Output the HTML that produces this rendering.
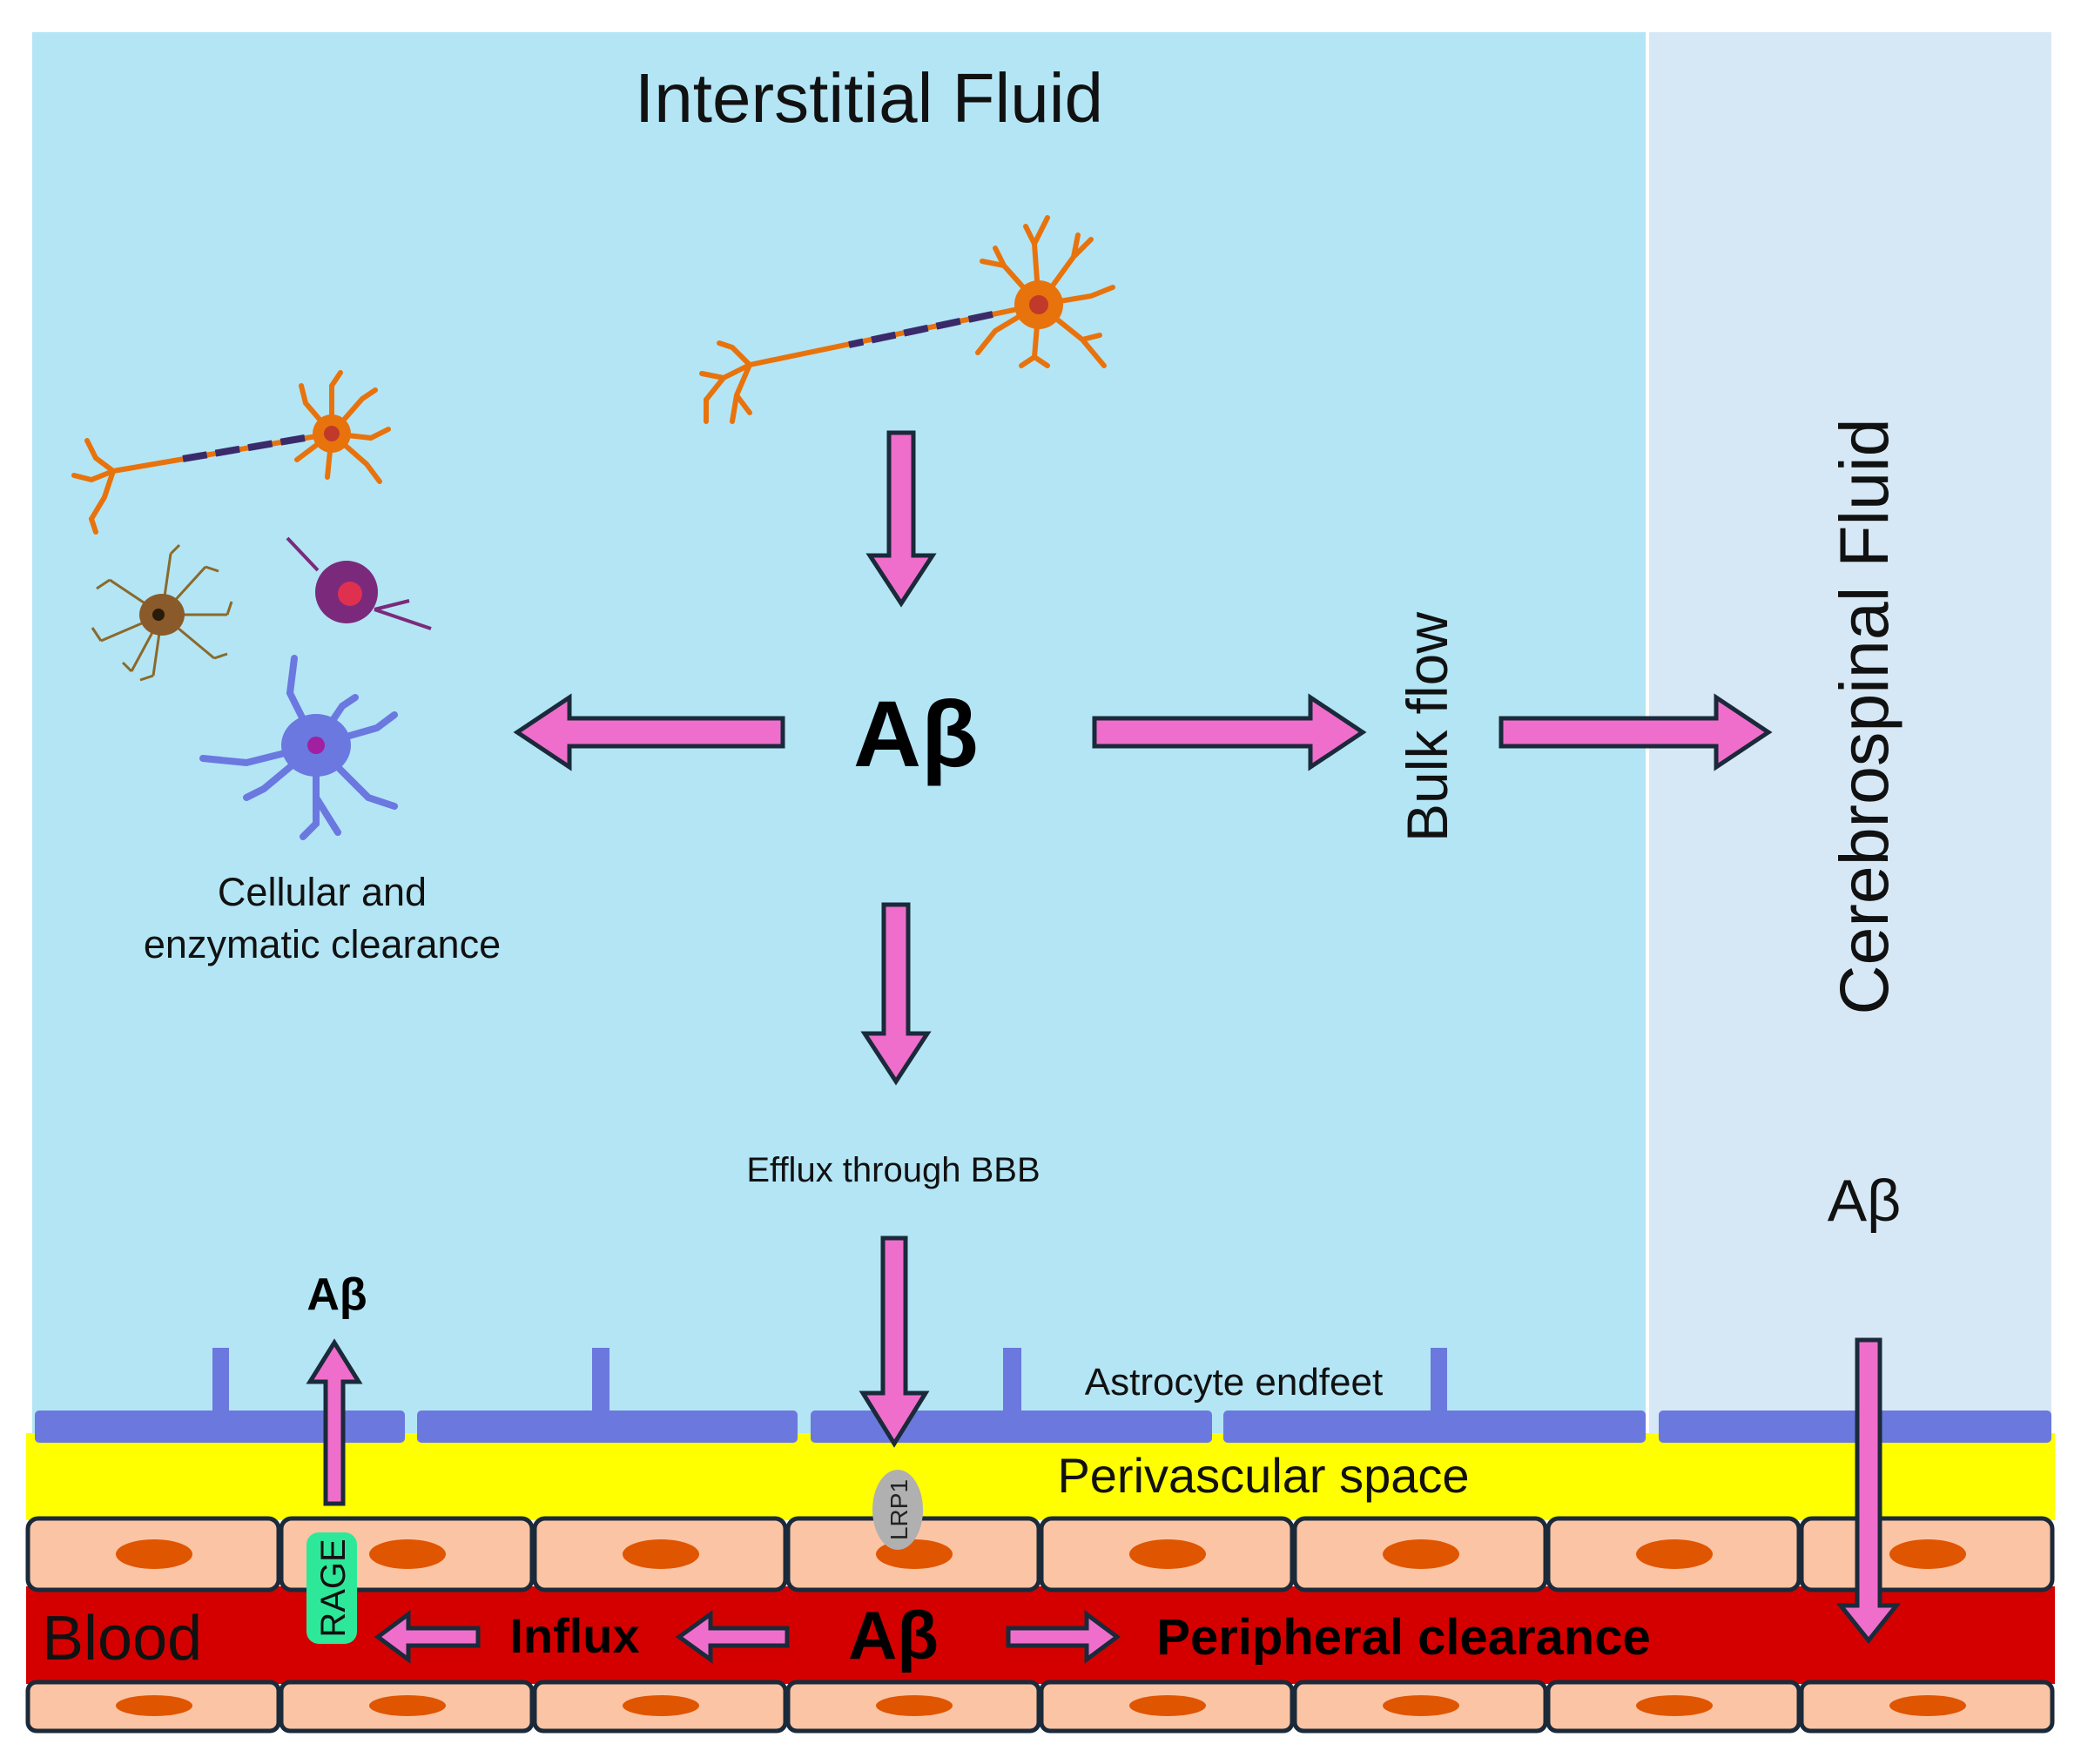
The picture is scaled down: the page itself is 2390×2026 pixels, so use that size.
<!DOCTYPE html>
<html><head><meta charset="utf-8"><style>
html,body{margin:0;padding:0;background:#fff}
svg{display:block}
text{font-family:"Liberation Sans","DejaVu Sans",sans-serif}
</style></head><body>
<svg width="2390" height="2026" viewBox="0 0 2390 2026" xmlns="http://www.w3.org/2000/svg">
<rect width="2390" height="2026" fill="#fff"/>
<rect x="37" y="37" width="1853" height="1620" fill="#b3e5f5"/>
<rect x="1894" y="37" width="462" height="1620" fill="#d6e8f6"/>
<rect x="30" y="1646" width="2330" height="100" fill="#ffff00"/>
<g fill="#6b78dd">
<rect x="40" y="1620" width="425" height="37" rx="5"/>
<rect x="479" y="1620" width="437" height="37" rx="5"/>
<rect x="931" y="1620" width="461" height="37" rx="5"/>
<rect x="1405" y="1620" width="485" height="37" rx="5"/>
<rect x="1905" y="1620" width="451" height="37" rx="5"/>
<rect x="244" y="1548" width="19" height="74"/>
<rect x="680" y="1548" width="20" height="74"/>
<rect x="1152" y="1548" width="21" height="74"/>
<rect x="1643" y="1548" width="19" height="74"/>
</g>
<rect x="30" y="1822" width="2330" height="112" fill="#d40000"/>
<g stroke="#1a2a3a" stroke-width="5" fill="#fbc4a4">
<rect x="32" y="1744" width="288" height="82" rx="12"/><rect x="323" y="1744" width="288" height="82" rx="12"/>
<rect x="614" y="1744" width="288" height="82" rx="12"/><rect x="905" y="1744" width="288" height="82" rx="12"/>
<rect x="1196" y="1744" width="288" height="82" rx="12"/><rect x="1487" y="1744" width="288" height="82" rx="12"/>
<rect x="1778" y="1744" width="288" height="82" rx="12"/><rect x="2069" y="1744" width="288" height="82" rx="12"/>
<rect x="32" y="1932" width="288" height="56" rx="10"/><rect x="323" y="1932" width="288" height="56" rx="10"/>
<rect x="614" y="1932" width="288" height="56" rx="10"/><rect x="905" y="1932" width="288" height="56" rx="10"/>
<rect x="1196" y="1932" width="288" height="56" rx="10"/><rect x="1487" y="1932" width="288" height="56" rx="10"/>
<rect x="1778" y="1932" width="288" height="56" rx="10"/><rect x="2069" y="1932" width="288" height="56" rx="10"/>
</g>
<g fill="#e05500">
<ellipse cx="177" cy="1785" rx="44" ry="17"/><ellipse cx="468" cy="1785" rx="44" ry="17"/>
<ellipse cx="759" cy="1785" rx="44" ry="17"/><ellipse cx="1050" cy="1785" rx="44" ry="17"/>
<ellipse cx="1341" cy="1785" rx="44" ry="17"/><ellipse cx="1632" cy="1785" rx="44" ry="17"/>
<ellipse cx="1923" cy="1785" rx="44" ry="17"/><ellipse cx="2214" cy="1785" rx="44" ry="17"/>
<ellipse cx="177" cy="1959" rx="44" ry="12"/><ellipse cx="468" cy="1959" rx="44" ry="12"/>
<ellipse cx="759" cy="1959" rx="44" ry="12"/><ellipse cx="1050" cy="1959" rx="44" ry="12"/>
<ellipse cx="1341" cy="1959" rx="44" ry="12"/><ellipse cx="1632" cy="1959" rx="44" ry="12"/>
<ellipse cx="1923" cy="1959" rx="44" ry="12"/><ellipse cx="2214" cy="1959" rx="44" ry="12"/>
</g>
<ellipse cx="1031" cy="1734" rx="29" ry="46" fill="#b0b0b0"/>
<text transform="translate(1042,1734) rotate(-90)" font-size="28" text-anchor="middle" fill="#222">LRP1</text>
<rect x="352" y="1760" width="58" height="128" rx="14" fill="#2ee89a"/>
<text transform="translate(396,1824) rotate(-90)" font-size="40" text-anchor="middle" fill="#111">RAGE</text>

<g fill="#f06ecb" stroke="#1a2a3a" stroke-width="5" stroke-linejoin="miter">
<path transform="translate(1035,497) rotate(90)" d="M0,-14 L141,-14 L141,-36 L196,0 L141,36 L141,14 L0,14 Z"/>
<path transform="translate(899,841) rotate(180)" d="M0,-16 L245,-16 L245,-40 L305,0 L245,40 L245,16 L0,16 Z"/>
<path transform="translate(1257,841)" d="M0,-16 L248,-16 L248,-40 L308,0 L248,40 L248,16 L0,16 Z"/>
<path transform="translate(1724,841)" d="M0,-16 L247,-16 L247,-40 L307,0 L247,40 L247,16 L0,16 Z"/>
<path transform="translate(1029,1039) rotate(90)" d="M0,-14 L148,-14 L148,-36 L203,0 L148,36 L148,14 L0,14 Z"/>
<path transform="translate(1027,1422) rotate(90)" d="M0,-13 L178,-13 L178,-36 L236,0 L178,36 L178,13 L0,13 Z"/>
<path transform="translate(384,1727) rotate(-90)" d="M0,-10 L140,-10 L140,-28 L185,0 L140,28 L140,10 L0,10 Z"/>
<path transform="translate(2146,1539) rotate(90)" d="M0,-13 L305,-13 L305,-32 L345,0 L305,32 L305,13 L0,13 Z"/>
<path transform="translate(549,1880) rotate(180)" d="M0,-10 L80,-10 L80,-26 L115,0 L80,26 L80,10 L0,10 Z"/>
<path transform="translate(904,1880) rotate(180)" d="M0,-10 L88,-10 L88,-26 L124,0 L88,26 L88,10 L0,10 Z"/>
<path transform="translate(1158,1880)" d="M0,-10 L90,-10 L90,-26 L125,0 L90,26 L90,10 L0,10 Z"/>
</g>

<g stroke="#e8730c" stroke-width="6" fill="none" stroke-linecap="round">
<path d="M1193,350 L861,419"/>
<path d="M1193,350 l-40,-45 l-10,-20 M1153,305 l-25,-5 M1193,350 l-5,-70 l-10,-20 M1188,280 l15,-30 M1193,350 l40,-55 l20,-20 M1233,295 l5,-25 M1193,350 l60,-10 l25,-10 M1193,350 l50,40 l25,30 M1243,390 l20,-5 M1193,350 l-5,60 l-15,10 M1188,410 l15,10 M1193,350 l-50,30 l-20,25"/>
<path d="M861,419 l-20,-20 l-15,-5 M861,419 l-30,15 l-20,25 l0,25 M831,434 l-25,-5 M861,419 l-15,35 l-5,30 M846,454 l15,20"/>
<path d="M381,498 L130,541"/>
<path d="M381,498 l-30,-35 l-5,-20 M381,498 l0,-55 l10,-15 M381,498 l35,-40 l15,-10 M381,498 l45,5 l20,-10 M381,498 l40,35 l15,20 M381,498 l-5,50 M381,498 l-40,30"/>
<path d="M130,541 l-20,-15 l-10,-20 M130,541 l-25,10 l-20,-5 M130,541 l-10,30 l-15,25 l5,15"/>
</g>
<circle cx="1193" cy="350" r="28" fill="#e8730c"/><circle cx="1193" cy="350" r="11" fill="#c0392b"/>
<circle cx="381" cy="498" r="22" fill="#e8730c"/><circle cx="381" cy="498" r="9" fill="#c0392b"/>
<g stroke="#3a2a6a" stroke-width="8" stroke-dasharray="28,10">
<path d="M1140,361 L975,396"/><path d="M350,503 L210,527"/>
</g>
<g stroke="#8a6a2a" stroke-width="3" fill="none">
<path d="M186,706 l-60,-40 M186,706 l-70,30 M186,706 l50,-55 M186,706 l75,0 M186,706 l60,50 M186,706 l-10,70 M186,706 l-35,65 M186,706 l10,-70 M126,666 l-15,10 M116,736 l-10,-15 M236,651 l15,5 M261,706 l5,-15 M246,756 l15,-5 M176,776 l-15,5 M151,771 l-10,-10 M196,636 l10,-10"/>
</g>
<ellipse cx="186" cy="706" rx="26" ry="24" fill="#8a5a2a"/><circle cx="182" cy="706" r="7" fill="#2a1a0a"/>
<path d="M330,618 L365,655 M430,700 L495,722 M430,700 L470,690" stroke="#7b2a7b" stroke-width="4" fill="none"/>
<ellipse cx="398" cy="680" rx="36" ry="36" fill="#7b2a7b"/><circle cx="402" cy="682" r="14" fill="#e03050"/>
<g stroke="#6a78e0" stroke-width="8" fill="none" stroke-linecap="round">
<path d="M363,856 l-30,-60 l5,-40 M363,856 l-80,20 l-50,-5 M363,856 l-60,50 l-20,10 M363,856 l0,90 l-15,15 M363,856 l60,60 l30,10 M363,856 l70,-20 l20,-15 M363,856 l30,-45 l15,-10 M363,916 l25,40"/>
</g>
<ellipse cx="363" cy="856" rx="40" ry="36" fill="#6a78e0"/><circle cx="363" cy="856" r="10" fill="#a020a0"/>

<text x="998" y="140" font-size="80" text-anchor="middle" fill="#111">Interstitial Fluid</text>
<text x="1052" y="880" font-size="108" font-weight="bold" text-anchor="middle" fill="#000">Aβ</text>
<text x="370" y="1040" font-size="45" text-anchor="middle" fill="#111">Cellular and</text>
<text x="370" y="1100" font-size="45" text-anchor="middle" fill="#111">enzymatic clearance</text>
<text transform="translate(1662,835) rotate(-90)" font-size="66" text-anchor="middle" fill="#111">Bulk flow</text>
<text transform="translate(2168,823) rotate(-90)" font-size="79" text-anchor="middle" fill="#111">Cerebrospinal Fluid</text>
<text x="2141" y="1402" font-size="68" text-anchor="middle" fill="#111">Aβ</text>
<text x="1026" y="1357" font-size="40" text-anchor="middle" fill="#111">Efflux through BBB</text>
<text x="387" y="1504" font-size="52" font-weight="bold" text-anchor="middle" fill="#000">Aβ</text>
<text x="1417" y="1602" font-size="44" text-anchor="middle" fill="#111">Astrocyte endfeet</text>
<text x="1451" y="1714" font-size="56" text-anchor="middle" fill="#111">Perivascular space</text>
<text x="48" y="1906" font-size="72" fill="#111">Blood</text>
<text x="660" y="1898" font-size="56" font-weight="bold" text-anchor="middle" fill="#000">Influx</text>
<text x="1026" y="1905" font-size="78" font-weight="bold" text-anchor="middle" fill="#000">Aβ</text>
<text x="1612" y="1900" font-size="58" font-weight="bold" text-anchor="middle" fill="#000">Peripheral clearance</text>
</svg>
</body></html>
